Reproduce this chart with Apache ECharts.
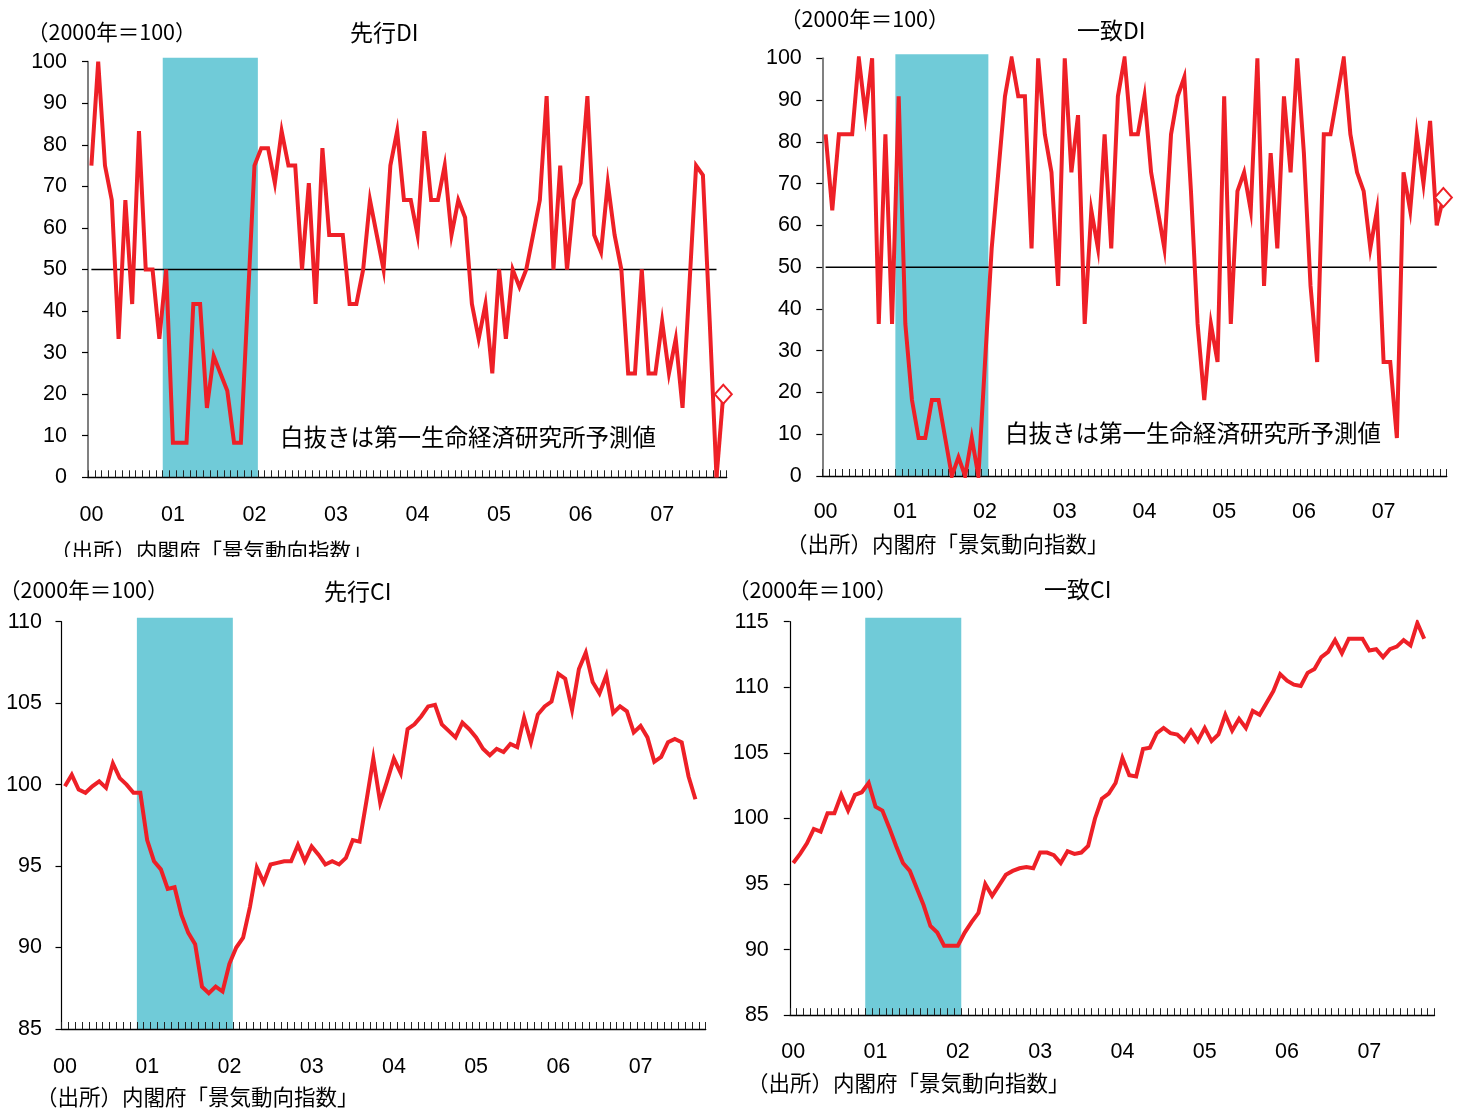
<!DOCTYPE html>
<html>
<head>
<meta charset="utf-8">
<script src="https://cdn.jsdelivr.net/npm/echarts@6/dist/echarts.min.js"></script>
<style>
  html, body { margin: 0; padding: 0; background: #fff; }
  #chart { width: 1463px; height: 1110px; }
</style>
</head>
<body>
<div id="chart"></div>
<script>
// ---- data -------------------------------------------------------------
// Month slots on every panel: Jan 2000 – Oct 2007
const MONTHS = [];
for (let y = 2000; y <= 2007; y++) {
  for (let m = 1; m <= 12; m++) {
    if (y < 2007 || m <= 10) MONTHS.push(y + '/' + m);
  }
}
const YEAR_TICKS = ['00', '01', '02', '03', '04', '05', '06', '07'];

// Recession shading, in month slots from Jan 2000 (Dec 2000 – Jan 2002)
const RECESSION = [11, 25];

const DI_THRESHOLD = 50;

const LEADING_DI = [
  75, 100, 75, 66.7, 33.3, 66.7, 41.7, 83.3, 50, 50, 33.3, 50,
  8.3, 8.3, 8.3, 41.7, 41.7, 16.7, 29.2, 25, 20.8, 8.3, 8.3, 41.7,
  75, 79.2, 79.2, 70.8, 83.3, 75, 75, 50, 70.8, 41.7, 79.2, 58.3,
  58.3, 58.3, 41.7, 41.7, 50, 66.7, 58.3, 50, 75, 83.3, 66.7, 66.7,
  58.3, 83.3, 66.7, 66.7, 75, 58.3, 66.7, 62.5, 41.7, 33.3, 41.7, 25,
  50, 33.3, 50, 45.8, 50, 58.3, 66.7, 91.7, 50, 75, 50, 66.7,
  70.8, 91.7, 58.3, 54.2, 70.8, 58.3, 50, 25, 25, 50, 25, 25,
  37.5, 25, 33.3, 16.7, 45.8, 75, 72.7, 37.5, 0
];
const LEADING_DI_FORECAST = 20;

const COINCIDENT_DI = [
  81.8, 63.6, 81.8, 81.8, 81.8, 100, 86.4, 100, 36.4, 81.8, 36.4, 90.9,
  36.4, 18.2, 9.1, 9.1, 18.2, 18.2, 9.1, 0, 4.5, 0, 9.1, 0,
  27.3, 54.5, 72.7, 90.9, 100, 90.9, 90.9, 54.5, 100, 81.8, 72.7, 45.5,
  100, 72.7, 86.4, 36.4, 63.6, 54.5, 81.8, 54.5, 90.9, 100, 81.8, 81.8,
  90.9, 72.7, 63.6, 54.5, 81.8, 90.9, 95.5, 68.2, 36.4, 18.2, 36.4, 27.3,
  90.9, 36.4, 68.2, 72.7, 63.6, 100, 45.5, 77.3, 54.5, 90.9, 72.7, 100,
  77.3, 45.5, 27.3, 81.8, 81.8, 90.9, 100, 81.8, 72.7, 68.2, 54.5, 63.6,
  27.3, 27.3, 9.1, 72.7, 63.6, 81.8, 70, 85, 60
];
const COINCIDENT_DI_FORECAST = 66.7;

const LEADING_CI = [
  99.9, 100.6, 99.7, 99.5, 99.9, 100.2, 99.8, 101.3, 100.4, 100.0, 99.5, 99.5,
  96.6, 95.3, 94.8, 93.6, 93.7, 92.0, 90.9, 90.2, 87.6, 87.2, 87.6, 87.3,
  89.0, 90.0, 90.6, 92.5, 94.9, 94.0, 95.1, 95.2, 95.3, 95.3, 96.3, 95.3,
  96.2, 95.7, 95.1, 95.3, 95.1, 95.5, 96.6, 96.5, 99.0, 101.6, 98.9, 100.2,
  101.6, 100.7, 103.4, 103.7, 104.2, 104.8, 104.9, 103.7, 103.3, 102.9, 103.8, 103.4,
  102.9, 102.2, 101.8, 102.2, 102.0, 102.5, 102.3, 104.1, 102.6, 104.3, 104.8, 105.1,
  106.8, 106.5, 104.6, 107.1, 108.1, 106.3, 105.6, 106.7, 104.4, 104.8, 104.5, 103.2,
  103.6, 102.9, 101.4, 101.7, 102.6, 102.8, 102.6, 100.5, 99.1
];

const COINCIDENT_CI = [
  96.6, 97.3, 98.1, 99.2, 99.0, 100.4, 100.4, 101.8, 100.6, 101.8, 102.0, 102.7,
  100.9, 100.6, 99.3, 97.9, 96.6, 96.0, 94.7, 93.4, 91.8, 91.3, 90.3, 90.3,
  90.3, 91.3, 92.1, 92.8, 95.0, 94.1, 94.9, 95.7, 96.0, 96.2, 96.3, 96.2,
  97.4, 97.4, 97.2, 96.6, 97.5, 97.3, 97.4, 97.9, 100.0, 101.5, 101.9, 102.7,
  104.6, 103.3, 103.2, 105.3, 105.4, 106.5, 106.9, 106.5, 106.4, 105.9, 106.7, 105.9,
  106.9, 105.9, 106.4, 107.9, 106.7, 107.6, 106.9, 108.2, 107.9, 108.8, 109.7, 111.0,
  110.5, 110.2, 110.1, 111.1, 111.4, 112.3, 112.7, 113.6, 112.6, 113.7, 113.7, 113.7,
  112.8, 112.9, 112.3, 112.9, 113.1, 113.6, 113.2, 114.9, 113.7
];

// ---- styling ------------------------------------------------------------
const RED = '#ee2027';
const SHADE = '#70cbd8';
const NUM_FONT = '"Liberation Sans", Arial, sans-serif';
const JP_FONT = '"Noto Sans CJK JP", sans-serif';
const BASE_LABEL = '（2000年＝100）';
const SOURCE = '（出所）内閣府「景気動向指数」';
const NOTE = '白抜きは第一生命経済研究所予測値';

const panels = [
  {
    data: LEADING_DI, forecast: LEADING_DI_FORECAST, threshold: true,
    y: [0, 100, 10], yAxisColor: '#808080', yAxisWidth: 2,
    grid: { left: 88, top: 61.7, width: 638.7, height: 415.6 },
    yLabelMargin: 21, xLabelMargin: 27
  },
  {
    data: COINCIDENT_DI, forecast: COINCIDENT_DI_FORECAST, threshold: true,
    y: [0, 100, 10], yAxisColor: '#808080', yAxisWidth: 2,
    grid: { left: 822.3, top: 58.3, width: 624.4, height: 417.7 },
    yLabelMargin: 20.5, xLabelMargin: 25
  },
  {
    data: LEADING_CI, forecast: null, threshold: false,
    y: [85, 110, 5], yAxisColor: '#000', yAxisWidth: 1.2,
    grid: { left: 61.5, top: 621.7, width: 644.2, height: 407.3 },
    yLabelMargin: 19.5, xLabelMargin: 27
  },
  {
    data: COINCIDENT_CI, forecast: null, threshold: false,
    y: [85, 115, 5], yAxisColor: '#000', yAxisWidth: 1.2,
    grid: { left: 789.8, top: 621.7, width: 644.7, height: 393.5 },
    yLabelMargin: 21, xLabelMargin: 26
  }
];

const grid = [], xAxis = [], yAxis = [], series = [];

panels.forEach((p, k) => {
  const main = 2 * k, shade = 2 * k + 1;

  grid.push({ left: p.grid.left, top: p.grid.top, width: p.grid.width, height: p.grid.height });
  // shading grid reaches a little above the top tick
  grid.push({ left: p.grid.left, top: p.grid.top - 4, width: p.grid.width, height: p.grid.height + 4 });

  xAxis.push({
    gridIndex: main, type: 'category', data: MONTHS, boundaryGap: true, z: 5,
    axisLine: { show: true, onZero: false, lineStyle: { color: '#000', width: 1.4 } },
    axisTick: { show: true, inside: true, length: 7, interval: 0, lineStyle: { color: '#222', width: 1 } },
    axisLabel: {
      interval: (i) => i % 12 === 0,
      formatter: (v, i) => YEAR_TICKS[Math.round(i / 12)],
      margin: p.xLabelMargin, fontSize: 21.5, color: '#000', fontFamily: NUM_FONT
    },
    splitLine: { show: false }
  });
  xAxis.push({ gridIndex: shade, type: 'value', min: 0, max: MONTHS.length, show: false });

  yAxis.push({
    gridIndex: main, type: 'value', min: p.y[0], max: p.y[1], interval: p.y[2], z: 5,
    axisLine: { show: true, lineStyle: { color: p.yAxisColor, width: p.yAxisWidth } },
    axisTick: { show: true, inside: false, length: 6, lineStyle: { color: '#000', width: 1.2 } },
    axisLabel: { margin: p.yLabelMargin, fontSize: 21.5, color: '#000', fontFamily: NUM_FONT },
    splitLine: { show: false }
  });
  yAxis.push({ gridIndex: shade, type: 'value', min: 0, max: 1, show: false });

  // recession band
  series.push({
    type: 'line', xAxisIndex: shade, yAxisIndex: shade, data: [], z: 1, silent: true,
    markArea: {
      silent: true, itemStyle: { color: SHADE, opacity: 1 },
      data: [[{ xAxis: RECESSION[0] }, { xAxis: RECESSION[1] }]]
    }
  });

  if (p.threshold) {
    series.push({
      type: 'line', xAxisIndex: main, yAxisIndex: main, z: 4, silent: true,
      data: p.data.map(() => DI_THRESHOLD), symbol: 'none',
      lineStyle: { color: '#000', width: 1.5 }
    });
  }

  series.push({
    type: 'line', xAxisIndex: main, yAxisIndex: main, z: 6,
    data: p.data, symbol: 'none',
    lineStyle: { color: RED, width: 4, join: 'miter' }
  });

  if (p.forecast != null) {
    const n = p.data.length;
    const fc = MONTHS.map(() => null);
    fc[n - 1] = { value: p.data[n - 1], symbol: 'none' };
    fc[n] = { value: p.forecast, symbol: 'diamond', symbolSize: [17, 19] };
    series.push({
      type: 'line', xAxisIndex: main, yAxisIndex: main, z: 7,
      data: fc, showSymbol: true, showAllSymbol: true, connectNulls: false,
      lineStyle: { color: RED, width: 4 },
      itemStyle: { color: '#fff', borderColor: RED, borderWidth: 2 }
    });
  }
});

function txt(text, x, y, size, font) {
  return {
    type: 'text', x: x, y: y, z: 20, silent: true,
    style: { text: text, fontSize: size, fontFamily: font || JP_FONT, fill: '#000',
             align: 'left', verticalAlign: 'middle' }
  };
}

const graphic = [
  // 先行DI
  txt(BASE_LABEL, 27, 32, 21.5), txt('先行DI', 350, 32.5, 23),
  txt(NOTE, 280, 437, 23.5),
  txt(SOURCE, 50, 551, 21.5),
  // cut-off strip below the first panel
  { type: 'rect', z: 30, silent: true, shape: { x: 0, y: 557, width: 735, height: 14 }, style: { fill: '#fff' } },
  // 一致DI
  txt(BASE_LABEL, 780, 18.5, 21.5), txt('一致DI', 1077, 30.5, 23),
  txt(NOTE, 1005, 433, 23.5),
  txt(SOURCE, 786, 543.5, 21.5),
  // 先行CI
  txt(BASE_LABEL, -1, 590, 21.5), txt('先行CI', 324, 591.5, 23),
  txt(SOURCE, 36, 1097, 21.5),
  // 一致CI
  txt(BASE_LABEL, 728, 589.5, 21.5), txt('一致CI', 1044, 589.5, 23),
  txt(SOURCE, 747, 1083, 21.5)
];

const chart = echarts.init(document.getElementById('chart'), null, { renderer: 'canvas' });
chart.setOption({
  animation: false,
  backgroundColor: '#fff',
  grid: grid, xAxis: xAxis, yAxis: yAxis, series: series, graphic: graphic
});
</script>
</body>
</html>
